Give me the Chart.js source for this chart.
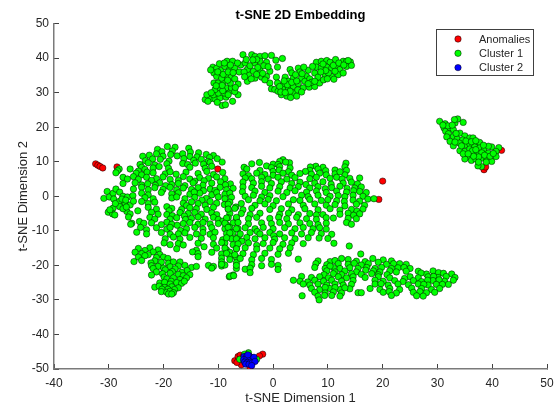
<!DOCTYPE html>
<html>
<head>
<meta charset="utf-8">
<title>t-SNE 2D Embedding</title>
<script src="https://cdn.jsdelivr.net/npm/chart.js@4"></script>
<style>
  html, body { margin: 0; padding: 0; background: #fff; }
  #wrap { width: 558px; height: 406px; }
</style>
</head>
<body>
<div id="wrap"><canvas id="chart" width="558" height="406"></canvas></div>
<script>
var TITLE = 't-SNE 2D Embedding';
var X_LABEL = 't-SNE Dimension 1';
var Y_LABEL = 't-SNE Dimension 2';
var SERIES_NAMES = ['Anomalies', 'Cluster 1', 'Cluster 2'];

var anomalies = [
  [-32.4,9.4],[-32,9],[-31.6,8.65],[-31.1,8.2],[-28.5,8.5],[-10.1,7.9],[20,4.4],[19.3,-0.9],
  [41.7,13.3],[38.5,7.7],[38.8,8.5],
  [-7,-47.6],[-1.9,-45.7],[-2.5,-46.2],[-6.4,-46.4],[-5.8,-48.8],[-4.2,-49.5],[-6,-46],[-5.4,-46.2],[-6.6,-48.1]
];

var cluster1Top = [
  [-12.4,28],[-11.5,28.2],[-12.1,29.4],[-10.6,28.2],[-9.7,28.5],[-8.6,28.7],[-7.4,27.5],[-6.4,29.4],[-9.3,26.3],[-8.7,26.5],
  [-10.9,29.4],[-10,29.9],[-8.9,29.9],[-7.9,30.4],[-10.6,30.9],[-9.7,31.4],[-8.6,31.4],[-7.6,31.4],[-6.4,32.5],[-10.8,32.8],
  [-10,32.8],[-9.1,33],[-7.8,32.8],[-11,37.4],[-10.3,37.1],[-9.8,38.4],[-8.4,39.1],[-7.4,39.1],[-10.8,35.7],[-9.5,36.4],
  [-8.8,37.6],[-7.9,36.9],[-7,37.1],[-5.9,38],[-6.2,36],[-8.5,34.9],[-7.6,34.7],[-10.3,34.7],[-9.4,34.2],[-7,34],
  [-4.7,33.3],[-4.4,35.2],[-3.3,34.2],[-2.1,34.5],[-2.4,36.5],[-3.6,36.2],[-4.7,36.7],[-5.5,41],[-3.9,41],[-3.3,40.5],
  [-2.4,40.5],[-1.5,40.7],[-0.3,40.8],[1.7,39.9],[0.5,39.4],[-5.1,38.6],[-4.2,37.8],[-3.3,38.6],[-2.4,39.1],[-1.2,38.8],
  [0.8,37.4],[-0.6,36.2],[-3,39.6],[-1.2,34.7],[0.6,34.5],[-0.6,32.8],[-0.3,31.1],[0.8,32.8],[0.3,30.9],[2.2,34.5],
  [3.1,36.7],[3.4,35.7],[4.6,37.1],[4.9,36],[6.4,36.5],[6.1,34.7],[5.2,34.2],[3.7,34.2],[2.8,33.3],[1.9,32.3],
  [0.9,30.4],[1.9,30.9],[2.8,31.4],[3.7,31.8],[4.6,32.6],[5.8,33.3],[6.7,34],[2.5,29],[1.5,29.4],[3.7,29.9],
  [4.3,29],[3.1,30.4],[5.5,31.4],[6.6,31.6],[7.6,31.8],[8.5,32.8],[7.6,35.7],[8.2,34.5],[7.9,38.8],[8.8,39.1],
  [9.8,39.3],[10.4,38.8],[11.4,39.6],[12.8,39.1],[13.4,39.1],[14.1,38.9],[7.9,37.4],[8.8,37.1],[9.8,37.4],[10.7,37.1],
  [11.6,37.6],[12.2,36.7],[13.4,37.6],[9.5,35.2],[10.7,34.7],[11.9,35.2],[10.1,35.7],[12.8,35.7],[11.3,36.2],
  [-11.9,27.5],[-10.2,27.2],[-11.3,30],[-9.2,30.6],[-8.2,29.4],[-7,30.3],[-9.3,32.1],[-8.3,33.6],[-6.9,31.5],[-10.4,32],
  [-11.4,36.6],[-10.1,36],[-9.1,35.3],[-8.2,36],[-7.3,35.8],[-6.5,38.6],[-8.9,38.6],[-7.8,38],[-5.3,36],[-5.2,34.6],
  [-4,34],[-3,35.3],[-2.8,37.3],[-1.7,37.8],[-0.9,37.5],[-3.7,39.5],[-1.9,35.6],[-4.9,39.6],[-1.5,33.7],
  [1.2,31.8],[1.4,30.2],[2.2,30],[2.6,32.3],[3.4,33],[4.3,33.4],[4.5,30.8],[5.2,30.2],[3.2,28.6],[2,33.4],
  [4.1,35.2],[5.3,35.5],[5.6,37.4],[7,33],[7.6,33.3],[9.2,33.7],[9.6,36.4],[8.7,36],[11,37.9],[12,38.6],
  [12.9,38],[14.3,37.9],[9.1,38.3],[7.2,37.6],[11.1,33.9],[9.9,34],[13.7,39.3],[6.4,32.6]
];

var cluster1Right = [
  [30.4,21.7],[31.4,21],[31.2,19.8],[31.5,18.8],[32.3,19.8],[32.9,19.3],[33.2,21.2],[33.7,22.4],[33.1,22.2],[34.7,21.4],
  [32,18.1],[32.9,17.3],[34.1,18.3],[35,17.5],[31.7,17.2],[33.6,16.6],[32.3,15.9],[32.9,14.6],[35.9,16.9],[36.5,16.9],
  [35,14.8],[35.9,15.2],[37.1,15.4],[37.7,15.6],[34.1,13.2],[35,13],[35.9,13.7],[36.8,14.3],[37.7,14],[38.5,13.3],
  [39.3,12.5],[39.9,14.3],[41.2,14.1],[40.7,13],[35.7,11.5],[35,10.8],[36.2,10.4],[37,10.8],[38.2,11.1],[39,10.6],
  [39.9,10.1],[40.7,11.5],[37.4,12.5],[36.5,12.5],[38.05,8.6],[37.4,8.8],[39.3,14.5],
  [31.9,20.4],[32.7,20.6],[31,20.6],[33.4,18.2],[34.6,16.3],[35.2,16],[34,15.4],[33.2,15.7],[36.4,13.2],[37,13.5],
  [38.1,12.6],[38.6,11.9],[39.6,11.6],[37.5,11.4],[36.6,11.6],[34.7,12.3],[38.9,9.9],[37.5,9.9],[40.2,12.4],[35.6,12.3],
  [36.2,15.8],[37,16.1],[34.4,14.6],[38.4,14.8]
];

var cluster1Left = [
  [-28.1,7.9],[-28.4,7.4],[-28.7,6.8],
  [-30.9,-0.6],[-30.3,1.4],[-29.9,-0.2],[-29.2,0.9],[-28.7,2.1],[-28,1.2],[-29.1,-0.8],[-28.1,-1.5],[-27.4,0],[-26.6,-0.2],[-25.6,0.2],
  [-27,-2],[-26.1,-2.5],[-28,-3],[-29.2,-3.4],[-30.1,-4.6],[-29.3,-5.1],[-28.9,-5.4],[-26.7,-4.4],[-26.1,-5.1],[-26.4,-6],[-24.7,-4.2],
  [-25.8,-7.8],[-26,-8.1],[-24.9,-10.4],[-24.4,-7.3],[-23.6,-7.8],[-23.1,-9.7],[-24.2,-9],[-23.1,-10.9],
  [-27.6,-0.8],[-26.9,-1.1],[-28.8,-2.1],[-27.4,-3.6],[-26.8,-3.1],[-29.8,-3.9],[-25.5,-1.4],
  [-21.1,13.6],[-19.3,14.4],[-17.9,14.2],[-15.4,13.9],[-20.3,12.9],[-18.4,13.1],[-13.6,12.6],[-15.1,12.8],
  [-22.6,11.9],[-21.3,12.3],[-20.1,11.6],[-18.7,12.1],[-17.5,11.7],[-16.5,12.3],[-15.2,11.5],[-12.2,12.1],[-10.9,11.8],[-23.8,11.6],[-13.9,11.4],[-11.6,11.2],
  [-23.3,10.3],[-22,10.8],[-20.6,10.7],[-19,10.2],[-16.3,10.9],[-14.5,10.4],[-13.1,10.7],[-11.9,10.1],[-10.2,10.9],[-9.3,9.9],
  [-24.3,9.2],[-22.8,9.7],[-21.6,9.1],[-19.4,9.4],[-16.5,9.5],[-15.6,9.2],[-14.2,9.6],[-12.7,9.3],[-11.5,9.8],[-24,8.4],[-21.9,8.2],[-20.8,8.6],[-19.1,8.1],[-15.2,8.4],[-12.4,8.1],[-11.2,8.7],
  [-26.1,7.9],[-24.6,7.3],[-23.4,7.8],[-25,6.7],[-24,6.2],[-23,7],[-21.9,6.8],[-19.7,6.5],[-18.8,7.1],[-17.7,6.4],[-15.9,7],[-13.7,6.6],[-12.1,7.2],[-10.9,6.3],[-9.2,6.9],
  [-27.4,5.5],[-26.6,5],[-25.5,5.7],[-24.6,4.9],[-23.1,5.5],[-21.3,5.1],[-20.1,5.6],[-18.8,4.9],[-16.4,5.7],[-15.2,5],[-13.4,5.4],[-11.8,5.2],[-10.3,5.6],[-8.8,5.1],[-22.2,4.6],[-17.3,4.6],[-14.3,4.4],[-12.6,4.5],[-9.6,4.2],
  [-27.4,3.7],[-25.2,3.9],[-24,3.3],[-22.9,3.6],[-20.7,3.9],[-18.5,3.4],[-17.3,3.7],[-16.1,3.1],[-14.6,3.9],[-12.8,3.2],[-11.2,3.8],[-7.8,3.6],[-19.6,3.1],[-21.5,3.2],[-8.7,3.3],
  [-25.5,2.1],[-24,2.6],[-22.8,1.9],[-21.6,2.5],[-20.1,2],[-18.8,2.6],[-17.6,1.9],[-16.4,2.4],[-14.9,2],[-13.7,2.5],[-11.5,2.1],[-9.7,2.6],[-8.5,1.9],[-7.3,2.3],[-10.6,1.7],[-12.7,1.6],
  [-24,0.9],[-22.8,0.4],[-20.4,1.1],[-18.5,0.7],[-17.3,1],[-15.2,0.6],[-13.4,0.9],[-11.2,0.4],[-10.3,1.1],[-8.8,0.6],[-7.9,0.9],[-14.4,1.2],
  [-23.4,-0.4],[-21.9,-0.7],[-18.5,-0.5],[-17.6,-0.2],[-16.1,-0.7],[-14.3,-0.3],[-12.2,-0.6],[-10,-0.2],[-8.8,-0.7],[-7.6,-0.3],[-13,-1.1],
  [-24,-1.5],[-22.8,-2.1],[-21.6,-1.7],[-16.4,-2],[-14.9,-1.6],[-13.7,-2.1],[-11.5,-1.5],[-10.3,-2],[-7.9,-1.7],[-8.9,-2.4],[-15.8,-2.7],[-12.4,-2.6],
  [-22.8,-3.2],[-21.3,-3.7],[-19.4,-3],[-18.5,-3.5],[-16.7,-3.8],[-15.2,-3.3],[-14,-3.6],[-12.1,-3.8],[-10.9,-3.2],[-8.2,-3.7],[-6.8,-3.1],[-19,-4.2],
  [-22.2,-4.6],[-21,-5.2],[-19.4,-5.3],[-17,-4.7],[-15.5,-5],[-14.3,-4.7],[-13.1,-5.2],[-11.2,-4.8],[-10.3,-5.3],[-7.9,-5],[-18.4,-5.6],[-16.2,-5.7],
  [-22.5,-6.1],[-21.6,-6.6],[-18.8,-6.6],[-17.6,-6.2],[-14.9,-6.4],[-13.7,-6],[-12.4,-6.6],[-10.9,-6.1],[-10,-6.7],[-8.2,-6.2],[-6.7,-6.5],[-16,-6.7],[-9.2,-7.2],
  [-22.2,-7.7],[-19.4,-7.5],[-18.5,-8.1],[-16.4,-7.9],[-15.2,-7.6],[-13.7,-8.1],[-12.8,-7.6],[-11.5,-8],[-10,-7.9],[-8.5,-8.2],[-7.3,-7.7],[-17.5,-8.4],[-20.4,-8.2],
  [-21.3,-9.1],[-19.4,-9.5],[-18.8,-9],[-15.8,-9.4],[-14.3,-9],[-12.8,-9.5],[-11.2,-9.1],[-8.8,-9.4],[-7.9,-9],[-6.4,-9.4],[-16.9,-9.9],
  [-20.4,-10.5],[-18.8,-11],[-17.3,-10.9],[-16.1,-10.6],[-14,-10.9],[-12.8,-10.5],[-11.5,-11],[-10.6,-10.4],[-8.5,-10.8],[-7.3,-10.5],
  [-19.7,-12.3],[-18.2,-11.8],[-17,-12.4],[-15.2,-11.9],[-13.1,-12.2],[-10.9,-12],[-7.6,-12.3],[-6.4,-11.9],[-9.2,-12.6],
  [-19.9,-13.5],[-18.8,-14],[-17.3,-13.7],[-16.4,-14.1],[-13.7,-13.6],[-10.9,-13.9],[-8.8,-13.5],[-7.3,-14],[-12.6,-14.6],
  [-24.6,-15.1],[-22.5,-14.9],[-21,-15.5],[-23.4,-15.7],[-17.6,-15.2],[-14,-15.6],[-10.3,-15],[-8.5,-15.5],[-6.7,-15.1],
  [-25.2,-16.2],[-24,-16.6],[-21.9,-16.1],[-20.7,-16.8],[-22.8,-16.9],[-14.7,-16.1],[-13.7,-16.6],[-11.2,-16.2],[-9.4,-16.7],[-7.9,-16.2],
  [-24.6,-17.6],[-23.4,-17.2],[-21.3,-17.7],[-20,-17.6],[-19.2,-18],[-13.7,-17.5],[-9.4,-17.9],[-7.9,-17.3],[-6.7,-17.7],
  [-25.4,-18.9],[-24,-18.6],[-21.6,-18.7],[-20.4,-19.1],[-19.1,-19.4],[-22.3,-19.3],[-18.2,-19],[-9.4,-19],[-6.7,-19.2],[-17,-19],
  [-22.2,-20.1],[-21,-20.3],[-18.8,-20.4],[-17.3,-20.2],[-16.1,-20],[-11.8,-20],[-10.9,-20.3],[-9.4,-20.2],[-8.8,-19.9],[-20,-20.8],
  [-21.9,-20.9],[-19.7,-21.3],[-17.9,-21],[-14.9,-20.6],[-14,-20.3],[-11.2,-20.8],[-6.7,-20.9],[-15.7,-21.5],[-18.4,-21.8],
  [-21.3,-21.9],[-18.8,-22.3],[-16.7,-22],[-17.3,-22.6],[-20.2,-22.4],
  [-22.2,-22.8],[-16.4,-23],[-15.2,-22.7],[-7.3,-22.8],[-8,-23.3],[-19.9,-23.4],
  [-19.4,-23.9],[-18.2,-23.6],[-17,-24.1],[-15.8,-23.6],[-18.6,-24.6],
  [-20.7,-25.1],[-19.8,-24.9],[-18.8,-25.4],[-17.6,-25],[-16.7,-25.2],[-16.2,-24.6],
  [-21.6,-26.3],[-20.8,-26],[-19.8,-26.4],[-18.5,-26.2],[-17.3,-26.5],[-19.2,-26.9],[-20.3,-26.9],[-18,-27],
  [-20.4,-27.6],[-19.4,-27.8],[-18.8,-27.5],[-18.2,-27.9],[-19.1,-28.3],[-18.5,-28.3]
];

var cluster1Middle = [
  [1.8,10.6],[1.2,10.1],[3,9.7],
  [-3.9,9.4],[-2.5,9.8],[0,9.3],[2.3,9.9],[13.3,9.6],[0.9,9.2],
  [-5.3,8.4],[-1.2,8.8],[-0.3,8.3],[1.2,8.6],[3.1,8.2],[7.8,8.7],[13.1,8.5],[9.1,8.4],[6.8,8.5],
  [-4.8,7.9],[-2.4,7.5],[0,7.2],[1.1,7.6],[2.8,7.1],[6.7,7.5],[8.2,7.9],[11.3,7.6],[13.4,7.5],[9.6,7.4],[5.9,7.2],
  [-5.5,6.5],[-4.5,6],[-3,6.7],[-1.5,6.3],[0,6.1],[1.8,6.7],[3.4,6.1],[4.9,6.6],[7,6.4],[8.5,6.7],[9.7,6.2],[11.3,6.5],[13.1,6.2],[12.2,7.1],
  [-5.1,5.3],[-3.9,5.1],[-2.1,5.5],[-0.9,5],[0.9,5.5],[2.5,5],[4,5.4],[6.7,5.1],[7.9,5.5],[10.4,5.2],[11.6,5.5],[15.8,5.3],[14,5.2],[12.6,5],
  [-5.5,4.1],[-3.6,3.8],[-2.1,4.2],[-0.3,3.7],[1.5,4.2],[3.4,3.7],[4.9,4.1],[7.6,3.8],[9.1,4.2],[12.8,3.8],[14.3,4.1],[15.4,3.6],[10.6,3.5],[6,3.4],
  [-5.5,2.7],[-3.9,2.5],[-2.1,2.9],[-0.6,2.4],[1.2,2.8],[3.1,2.4],[4.6,2.8],[6.7,2.4],[8.2,2.8],[10.7,2.5],[12.2,2.9],[14.9,2.4],[16.1,2.7],[13.5,2.3],[9.5,2.2],
  [-5.6,1.3],[-3.3,1.5],[-1.5,1.1],[0.9,1.5],[2.5,1.1],[4,1.6],[6.1,1.2],[7.9,1.5],[9.7,1.1],[11.6,1.5],[13.4,1.2],[15.8,1.4],[17,1.1],[14.7,1.6],
  [-5.1,0],[-3.6,0.3],[-2.1,-0.2],[-0.6,0.2],[1.8,-0.1],[5.2,0.3],[6.4,-0.1],[8.2,0.3],[10.4,0],[13.1,-0.1],[14.6,0.3],[16.4,0],[11.9,0.2],
  [-4.5,-1],[-2.4,-1.3],[-0.9,-0.9],[0.6,-1.3],[3.7,-1],[4.9,-1.2],[6.7,-0.9],[8.8,-1.2],[11.6,-1.3],[14.6,-1.1],[15.8,-1.4],[17.3,-0.8],[18.4,-0.7],[10,-1],[13,-1.5],
  [-8.2,-2.3],[-5.8,-2.1],[-3.3,-2.6],[-1.5,-2.2],[0,-2.7],[2.8,-2.2],[5.5,-2.6],[7.6,-2.2],[9.7,-2.6],[13.1,-2.8],[15.2,-2.3],[16.7,-2.6],[11.3,-2.4],
  [-8.2,-3.7],[-7,-3.5],[-5.5,-3.9],[-3.9,-3.5],[-0.6,-3.8],[1.5,-3.6],[3.4,-3.9],[5.8,-3.6],[8.2,-3.9],[10.4,-3.6],[12.2,-4],[14.3,-3.8],[16.4,-3.7],[15.3,-4.3],
  [-5.8,-5],[-4.2,-5.3],[-2.4,-4.9],[1.2,-5.2],[2.8,-4.9],[4.6,-5.3],[6.7,-5],[9.1,-5.3],[12.2,-5.2],[13.7,-4.9],[15.8,-5.1],[7.9,-5.4],[14.7,-5.5],
  [-8.5,-6.3],[-6.7,-6.1],[-4.5,-6.5],[-3,-6.1],[-0.6,-6.4],[2.5,-6.5],[4.3,-6.1],[6.1,-6.5],[7.9,-6.7],[9.7,-6.2],[13.7,-6.4],[15.2,-6.5],[1,-6.1],[11,-6.3],
  [-8.8,-7.8],[-6.4,-7.6],[-4.5,-8],[-2.1,-7.7],[-0.3,-7.9],[1.2,-7.6],[2.8,-8],[4.9,-7.7],[6.7,-7.9],[9.7,-7.8],[13.4,-7.6],[14.3,-8.1],[8.2,-8.2],
  [-8.2,-9],[-6.7,-9.4],[-5.1,-9.1],[-3.3,-9.4],[-1.8,-9],[0,-9.4],[2.1,-9.1],[4,-9.4],[5.5,-9],[7.3,-9.4],[8.5,-9.1],[9.7,-9.5],[-2.9,-10.2],
  [-7.9,-10.6],[-6,-10.9],[-4.2,-10.5],[-2.4,-10.9],[-0.6,-10.5],[1.2,-10.9],[3.4,-10.6],[5.2,-10.9],[7,-10.5],[8.8,-10.8],[10.7,-11],[0.1,-11.4],
  [-8.5,-12],[-6.7,-12.3],[-4.8,-11.9],[-3.3,-12.3],[-1.5,-12],[0.3,-12.4],[2.1,-12],[4,-12.3],[6.4,-12],[10,-12.2],[8.4,-12.1],[-5.7,-13],
  [-9.4,-13.4],[-6.4,-13.8],[-4.5,-13.5],[-1.8,-13.7],[0,-13.4],[1.8,-13.9],[3.4,-13.5],[5.5,-13.7],[11.1,-13.6],[13.9,-14.4],[-3,-14.2],
  [-8.8,-15],[-6.7,-15.2],[-5.1,-14.9],[-3,-15.3],[-0.6,-15],[1.2,-15.2],[3.1,-14.9],
  [-8.5,-16.5],[-7,-16.9],[-5.5,-16.6],[-3.6,-16.9],[-1.5,-16.5],[0.9,-16.8],[2.8,-16.5],
  [-7.9,-18.3],[-6,-18],[-3.9,-18.4],[-2.1,-18],[-0.3,-18.3],[4.6,-18.2],
  [-9.4,-19.7],[-6.7,-20],[-3.9,-19.8],[-2.1,-20.1],[-0.3,-19.7],[0.9,-20],
  [-5.1,-21.1],[0.9,-21.2],[-4.2,-20.8],[-4.2,-22.1],[-7.9,-23.1],[-7.2,-23]
];

var cluster1Lower = [
  [16,-16.7],
  [12.5,-18],[13.7,-18.3],[18.2,-18],[20.1,-18.4],
  [8.2,-18.7],[10.4,-18.9],[11.3,-18.6],[15.2,-18.8],[19.2,-19.1],[21.6,-18.7],[16.8,-18.9],
  [7.8,-19.5],[9.8,-19.8],[11.9,-19.5],[13.7,-19.7],[16.1,-19.9],[17.4,-19.5],[20.7,-19.7],[23.1,-19.5],[24.3,-19.7],[22,-19.5],[14.8,-19.4],
  [7.6,-20.6],[9.5,-20.9],[11,-20.6],[12.2,-20.9],[14,-20.7],[15.5,-20.9],[17.1,-20.6],[18.6,-20.9],[19.8,-20.6],[21.6,-20.9],[22.8,-20.7],[25,-20.9],[23.9,-20.6],[10.4,-20.2],
  [26.5,-21.7],[9.8,-21.6],[11.3,-21.9],[13.1,-21.6],[15.2,-21.9],[18.3,-21.6],[19.5,-21.9],[21.3,-21.6],[22.5,-21.9],[29.2,-21.6],[16.9,-21.4],[24.3,-21.7],[30.2,-22.1],
  [11,-22.4],[12.5,-22.7],[14.3,-22.4],[16.1,-22.6],[18,-22.4],[19.2,-22.7],[28,-22.5],[31.1,-22.3],[32.6,-22.5],[20.8,-22.7],[27,-22.2],[9.3,-22.7],
  [5.2,-23.2],[7,-23.5],[8.5,-23.3],[10.1,-23.6],[11.9,-23.3],[13.4,-23.6],[14.6,-23.3],[16.8,-23.5],[19.2,-23.3],[21.3,-23.6],[25,-23.3],[26.5,-23.6],[28.3,-23.3],[30.1,-23.5],[31.6,-23.2],[33.2,-23.5],[24,-23.8],[29.3,-23.2],
  [3.7,-24.3],[4.9,-24.6],[7.6,-24.3],[9.2,-24.6],[10.7,-24.3],[12.5,-24.6],[14.6,-24.4],[18.6,-24.3],[20.1,-24.6],[22.2,-24.4],[23.7,-24.7],[25.6,-24.4],[27.1,-24.7],[29.2,-24.4],[31.3,-24.6],[32.9,-24.3],[6.3,-24.8],[28.2,-24.3],[30.3,-24.2],
  [5.5,-25.4],[6.7,-25.7],[8.2,-25.4],[9.8,-25.7],[11.3,-25.4],[12.8,-25.7],[14.3,-25.5],[18.6,-25.4],[21,-25.7],[22.8,-25.4],[24.7,-25.6],[26.5,-25.4],[28.3,-25.7],[29.8,-25.5],[32,-25.5],[30.9,-25.5],[27.5,-25.5],[19.7,-25.3],
  [7,-26.7],[8.5,-27],[10.4,-26.7],[12.2,-27],[14,-26.8],[17.7,-26.7],[19.5,-27],[21.3,-26.7],[23.1,-27],[27.1,-26.7],[28.9,-27],[30.4,-26.7],[9.5,-26.4],[11.3,-26.4],[13.1,-26.5],[25.3,-26.6],
  [7.6,-27.8],[9.5,-28],[11,-27.7],[12.5,-28],[15.5,-27.9],[16.1,-27.9],[20.1,-27.8],[22.5,-28],[25.6,-27.8],[28,-27.9],[26.8,-27.6],[29.5,-27.8],[21.2,-27.6],
  [5.3,-28.8],[8.2,-28.9],[10.7,-28.7],[12.2,-28.9],[21.6,-28.7],[26.2,-28.8],[27.4,-28.9],[9.4,-28.7],
  [8.4,-30]
];

var cluster1Bottom = [
  [-6.1,-47.2],[-4.5,-45.3],[-3,-47.2],[-5.2,-45.7]
];

var cluster2 = [
  [-5.3,-46.4],[-4.8,-46.2],[-4.3,-46.3],[-3.8,-46.8],[-5.4,-47.3],[-4.8,-47],[-4.2,-47.1],[-3.6,-47.5],
  [-5.2,-48],[-4.7,-48.1],[-4.1,-48],[-5,-48.6],[-4.4,-48.6],[-3.8,-48.2],[-3.5,-46.6],[-3.3,-47.8],[-3.9,-49],[-4.6,-45.9]
];

function toPoints(pairs) {
  return pairs.map(function (p) { return { x: p[0], y: p[1] }; });
}

var cluster1 = cluster1Top.concat(cluster1Right, cluster1Left, cluster1Middle, cluster1Lower, cluster1Bottom);

var seriesData = [anomalies, cluster1, cluster2];
var seriesColors = ['#ff0000', '#00ff00', '#0000ff'];
var TEXT_COLOR = '#262626';
var EDGE_COLOR = 'rgba(0, 0, 0, 0.7)';
var MARKER_RADIUS = 3.2;

// boxed legend at the upper right, like the original figure
var boxLegend = {
  id: 'boxLegend',
  afterDraw: function (chart) {
    var ctx = chart.ctx;
    ctx.save();
    ctx.fillStyle = '#fff';
    ctx.fillRect(436.5, 29.5, 97, 46);
    ctx.strokeStyle = '#404040';
    ctx.lineWidth = 1;
    ctx.strokeRect(436.5, 29.5, 97, 46);
    ctx.font = '11px "Liberation Sans"';
    ctx.textBaseline = 'middle';
    for (var i = 0; i < SERIES_NAMES.length; i++) {
      var y = 39 + i * 14.3;
      ctx.beginPath();
      ctx.arc(458, y, MARKER_RADIUS, 0, Math.PI * 2);
      ctx.fillStyle = seriesColors[i];
      ctx.fill();
      ctx.strokeStyle = EDGE_COLOR;
      ctx.lineWidth = 0.7;
      ctx.stroke();
      ctx.fillStyle = TEXT_COLOR;
      ctx.fillText(SERIES_NAMES[i], 479, y + 0.5);
    }
    ctx.restore();
  },
};

function makeAxis(min, max, label, isX) {
  return {
    type: 'linear',
    min: min,
    max: max,
    title: {
      display: true,
      text: label,
      color: TEXT_COLOR,
      font: { family: '"Liberation Sans"', size: 13 },
      padding: { top: isX ? -2 : 16, bottom: 0 },
    },
    ticks: {
      stepSize: 10,
      color: TEXT_COLOR,
      font: { family: '"Liberation Sans"', size: 12 },
      padding: isX ? 12 : 10,
      maxRotation: 0,
      autoSkip: false,
    },
    grid: {
      drawOnChartArea: false,
      tickLength: -5,
      tickColor: '#404040',
    },
    border: { color: '#7a7a7a', width: 1.5 },
    afterFit: function (scale) {
      if (isX) { scale.height = 37; } else { scale.width = 54; }
      // tick padding would otherwise eat into the plot width
      scale.paddingLeft = 0;
      scale.paddingRight = 0;
      scale.paddingTop = 0;
      scale.paddingBottom = 0;
    },
  };
}

Chart.defaults.animation = false;

new Chart(document.getElementById('chart'), {
  type: 'scatter',
  data: {
    datasets: seriesData.map(function (rows, i) {
      return {
        label: SERIES_NAMES[i],
        data: toPoints(rows),
        backgroundColor: seriesColors[i],
        borderColor: EDGE_COLOR,
        borderWidth: 0.7,
        pointRadius: MARKER_RADIUS,
        order: 3 - i,
      };
    }),
  },
  options: {
    responsive: false,
    layout: { padding: { top: 0, right: 11, bottom: 0, left: 0 } },
    plugins: {
      legend: { display: false },
      tooltip: { enabled: false },
      title: {
        display: true,
        fullSize: false,
        text: TITLE,
        color: '#000',
        font: { family: '"Liberation Sans"', size: 13, weight: 'bold' },
        padding: { top: 7.5, bottom: 0.5 },
      },
    },
    scales: {
      x: makeAxis(-40, 50, X_LABEL, true),
      y: makeAxis(-50, 50, Y_LABEL, false),
    },
  },
  plugins: [boxLegend],
});
</script>
</body>
</html>
